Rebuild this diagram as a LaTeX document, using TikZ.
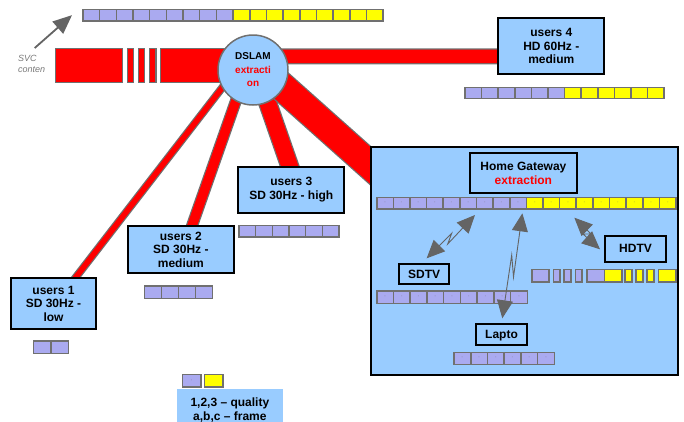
\documentclass[tikz,border=0pt]{standalone}
\usepackage{fontspec}
\setmainfont{Liberation Sans}
\usetikzlibrary{arrows.meta,backgrounds,calc}

\definecolor{bandred}{RGB}{255,0,0}
\definecolor{lav}{RGB}{170,170,240}
\definecolor{ylw}{RGB}{255,255,0}
\definecolor{sky}{RGB}{153,204,255}
\definecolor{rim}{RGB}{112,112,112}
\definecolor{boltgrey}{RGB}{100,100,100}
\definecolor{notegrey}{RGB}{120,120,120}

% a row of frame cells: name, left, top, cell width, height, #lavender, #yellow, cell text
\newcommand\cellrow[8]{%
  \pgfmathtruncatemacro\cellcount{#6+#7}%
  \foreach \k in {1,...,\cellcount}{%
    \ifnum\k>#6\relax\def\cellcol{ylw}\else\def\cellcol{lav}\fi
    \node[cellbox, fill=\cellcol, minimum width=#4, minimum height=#5]
      (#1-\k) at ({#2+(\k-1)*#4},#3) {#8};
  }%
}

\tikzset{
  box/.style={draw=black, line width=1.8pt, fill=sky, anchor=north west,
    outer sep=0pt, inner sep=0pt, align=center,
    font=\bfseries\fontsize{12}{13.5}\selectfont},
  cellbox/.style={draw=rim, line width=1.6pt, anchor=north west,
    outer sep=0pt, inner sep=0pt, text=rim, font=\fontsize{4}{4}\selectfont},
  band/.style={draw=rim, line width=1.2pt, double=bandred, double distance=#1},
  bandpiece/.style={fill=bandred, draw=rim, line width=1.5pt},
  bolt/.style={draw=boltgrey, line width=0.9pt,
    {Triangle[length=18pt,width=16pt]}-{Triangle[length=18pt,width=16pt]}},
  svcarrow/.style={draw=boltgrey, line width=1.8pt,
    -{Triangle[length=19pt,width=16pt]}},
}

\begin{document}
\begin{tikzpicture}[x=1pt,y=-1pt]
\useasboundingbox (0,0) rectangle (684,421);
\clip (0,0) rectangle (684,421);

% DSLAM
\node[circle, draw=rim, line width=1.5pt, fill=sky, minimum size=70pt,
  inner sep=0pt, align=center, font=\bfseries\fontsize{10}{13.5}\selectfont]
  (dslam) at (253,70) {DSLAM\\\textcolor{bandred}{extracti}\\\textcolor{bandred}{on}};

% user groups
\node[box, minimum width=106, minimum height=55.7] (u4) at (498.3,18.3) {users 4\\HD 60Hz -\\medium};
\node[box, minimum width=106, minimum height=46] (u3) at (238.3,166.7) {users 3\\SD 30Hz - high};
\node[box, minimum width=106.3, minimum height=47.3] (u2) at (127.7,226) {users 2\\SD 30Hz -\\medium};
\node[box, minimum width=85, minimum height=51.6] (u1) at (11,277.7) {users 1\\SD 30Hz -\\low};

% home network
\node[box, minimum width=307, minimum height=228] (gw) at (371,147) {};
\node[box, minimum width=106.7, minimum height=40] (hg) at (470,153.3)
  {Home Gateway\\\textcolor{bandred}{extraction}};
\node[box, minimum width=61, minimum height=26] (hdtv) at (605,235.7) {HDTV};
\node[box, minimum width=50.3, minimum height=20.3] (sdtv) at (399,264) {SDTV};
\node[box, minimum width=51, minimum height=21, text depth=0pt] (lap) at (476,324.3) {Lapto};

% frame rows
\cellrow{tb}{83}{9.3}{16.67}{11.7}{9}{9}{}
\cellrow{b4}{465}{87.3}{16.6}{11}{6}{6}{}
\cellrow{b3}{239}{225.3}{16.67}{11.4}{6}{0}{}
\cellrow{b2}{144.3}{286}{17}{12.3}{4}{0}{}
\cellrow{b1}{33.3}{341}{17.5}{12.3}{2}{0}{}
\cellrow{hgb}{376.7}{197.3}{16.63}{11.7}{9}{9}{-}
\cellrow{sdb}{376.7}{291}{16.74}{12.3}{9}{0}{-}
\cellrow{lpb}{454}{352.3}{16.72}{12}{6}{0}{-}

% thinned-out HD row
\foreach \xa/\xb/\cc [count=\i] in {531.7/549/lav, 553.3/560/lav, 564/571/lav,
    575.3/582/lav, 586.7/604.3/lav, 604.3/621.7/ylw, 625/631.7/ylw,
    636/642.7/ylw, 646.7/654/ylw, 658.3/675.7/ylw}{
  \node[cellbox, fill=\cc, minimum width=\xb-\xa, minimum height=12.4] (hd-\i) at (\xa,269.3) {};
}

% legend
\node[cellbox, fill=lav, minimum width=18.4, minimum height=12.4] (lg-1) at (182.3,374.3) {-};
\node[cellbox, fill=ylw, minimum width=18.4, minimum height=12.4] (lg-2) at (204.3,374.3) {};
\node[fill=sky, anchor=north west, minimum width=106, minimum height=44,
  inner sep=0pt, align=center, font=\bfseries\fontsize{12}{14}\selectfont]
  (legend) at (176.7,388.3) {1,2,3 -- quality\\a,b,c -- frame};

% SVC note
\node[anchor=north west, inner sep=0pt, align=left, text=notegrey,
  font=\itshape\fontsize{9}{11}\selectfont] (svc) at (18,55) {SVC\\conten};
\draw[svcarrow] ($(svc.north)+(3,-7)$) -- ($(tb-1.west)+(-11,0)$);

% wireless links
\draw[bolt] ($(sdtv.north)+(2.5,-5.7)$) -- (451.7,233.3) -- (447.7,244) -- ($(hgb-6.south)+(6.8,6)$);
\draw[bolt] ($(lap.north)+(0.8,-6)$) -- (511.7,255) -- (513.5,277) -- ($(hgb-9.south)+(4.3,4.3)$);
\draw[bolt] ($(hgb-12.south)+(6.4,8.7)$) -- (591,234) -- (583,234) -- ($(hdtv.west)+(-5,0.6)$);

% access links
\begin{pgfonlayer}{background}
  \filldraw[bandpiece] (55.7,48.3) rectangle (122.3,82.3);
  \filldraw[bandpiece] (127.7,48.3) rectangle (133.3,82.3);
  \filldraw[bandpiece] (138.7,48.3) rectangle (144.7,82.3);
  \filldraw[bandpiece] (149.3,48.3) rectangle (156,82.3);
  \filldraw[bandpiece] (160.7,48.3) rectangle (dslam.center |- 0,82.3);
  \draw[band=13.6] ($(dslam.center)+(0,-13.7)$) -- ($(u4.west)+(10,10.15)$);
  \draw[band=5.6] ($(dslam.center)+(-21,5)$) -- ($(u1.north)+(12.5,12.3)$);
  \draw[band=9.6] ($(dslam.center)+(-8,5)$) -- ($(u2.north)+(6.15,14)$);
  \draw[band=16.6] ($(dslam.center)+(5,5)$) -- ($(u3.north)+(3.2,13.3)$);
  \draw[band=27.6] ($(dslam.center)+(17,6)$) -- ($(gw.north west)+(19,36)$);
\end{pgfonlayer}
\end{tikzpicture}
\end{document}
